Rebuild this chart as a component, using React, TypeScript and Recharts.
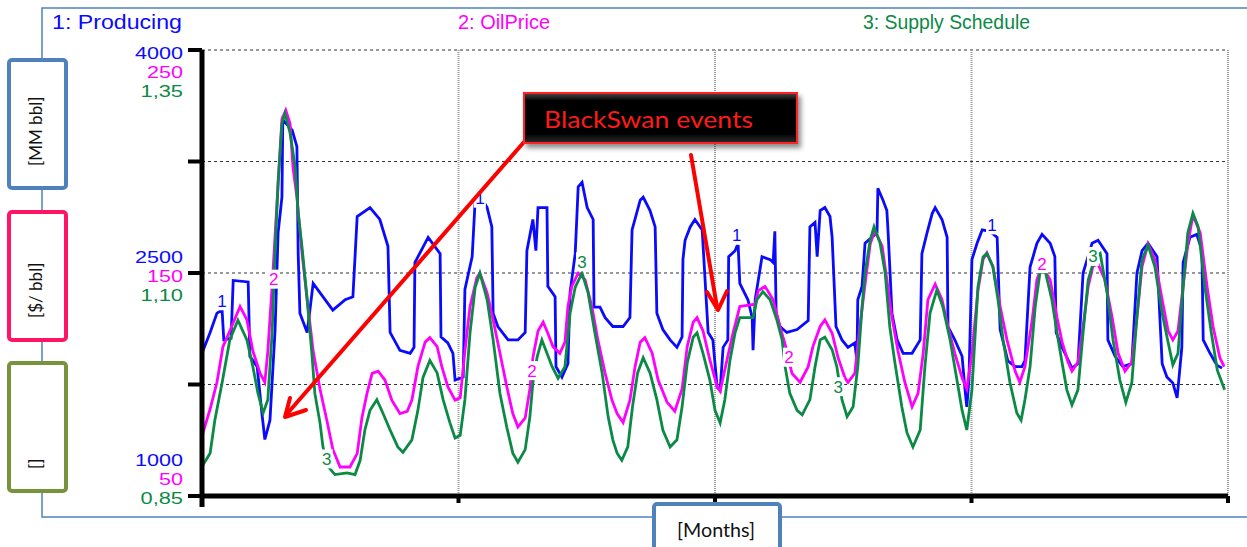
import React from "react";
import {
  LineChart,
  Line,
  XAxis,
  YAxis,
  CartesianGrid,
  ReferenceDot,
} from "recharts";

// 1: Producing [MM bbl]
const producingMonths = [
  0, 1.9, 3.5, 4.7, 5.1, 6.8, 7.3, 10.8, 11.2, 12.9, 14.0, 14.7, 15.9, 17.1, 17.8, 18.7, 18.9, 21.1, 22.2, 22.5,
  22.9, 24.6, 26.0, 30.6, 33.5, 35.3, 36.3, 39.3, 41.6, 43.5, 44.0, 46.3, 48.7, 49.6, 49.8, 52.9, 55.7, 55.9, 57.5, 58.7,
  59.2, 61.1, 61.5, 63.2, 63.9, 64.6, 66.7, 67.8, 68.1, 69.2, 71.6, 73.9, 75.6, 76.0, 77.4, 78.1, 78.6, 80.7, 80.9, 82.6,
  82.8, 84.2, 85.6, 86.1, 87.3, 88.0, 88.9, 90.1, 91.5, 91.7, 93.1, 94.3, 96.1, 98.5, 100.1, 100.6, 102.5, 103.2, 104.8, 106.0,
  106.4, 107.8, 109.5, 111.1, 112.3, 112.5, 113.0, 114.2, 115.3, 117.0, 118.4, 119.5, 120.5, 121.2, 121.9, 123.0, 123.2, 124.7, 125.4, 125.8,
  127.7, 128.7, 128.9, 129.4, 131.0, 132.9, 133.6, 134.0, 134.3, 135.2, 136.8, 139.2, 141.8, 142.2, 143.4, 143.9, 144.6, 145.7, 146.9, 147.4,
  148.3, 149.7, 151.1, 152.7, 153.2, 153.4, 154.4, 155.1, 157.9, 158.1, 159.3, 160.2, 160.5, 161.4, 162.6, 164.0, 166.1, 168.0, 168.4, 169.6,
  170.8, 171.5, 173.1, 174.3, 174.5, 176.1, 177.8, 178.5, 178.9, 179.4, 180.1, 181.3, 182.5, 184.3, 186.0, 186.7, 188.5, 190.2, 191.8, 192.5,
  193.7, 195.3, 196.5, 198.4, 199.5, 199.8, 201.2, 203.5, 204.9, 206.1, 208.2, 209.6, 211.7, 211.9, 213.6, 215.4, 217.5, 218.7, 219.9, 221.3,
  223.4, 224.1, 224.6, 225.7, 227.1, 228.1, 229.2, 229.5, 231.1, 232.7, 233.9, 234.2, 235.8, 237.4, 238.6,
];
const producingValues = [
  1960, 2100, 2230, 2250, 2050, 2060, 2450, 2440, 1940, 1870, 1560, 1380, 1510, 2120, 2770, 3010, 3530, 3460, 3350, 2630,
  2230, 2100, 2430, 2250, 2320, 2340, 2880, 2940, 2860, 2680, 2100, 1980, 1960, 2000, 2570, 2740, 2630, 2070, 2030, 1960,
  1780, 1800, 2390, 2610, 2990, 3040, 2940, 2810, 2230, 2140, 2050, 2050, 2100, 2650, 2860, 2650, 2940, 2940, 2410, 2340,
  1870, 1800, 1890, 2370, 2630, 3080, 3110, 2940, 2860, 2270, 2270, 2200, 2140, 2140, 2200, 2790, 2990, 3010, 2920, 2810,
  2230, 2120, 2050, 2000, 2070, 2590, 2720, 2810, 2860, 2790, 2100, 2050, 1730, 1710, 2000, 2050, 2610, 2650, 2700, 2430,
  2320, 2200, 1980, 2320, 2610, 2590, 2570, 2780, 2230, 2140, 2100, 2120, 2180, 2810, 2840, 2610, 2920, 2940, 2880, 2740,
  2140, 2050, 2000, 2030, 1910, 2320, 2410, 2700, 2770, 3070, 2990, 2920, 2770, 2230, 2050, 1960, 1960, 2050, 2630, 2770,
  2900, 2940, 2860, 2740, 2140, 2050, 1940, 1710, 1600, 1780, 2590, 2700, 2790, 2780, 2740, 2120, 1910, 1870, 1870, 1910,
  2540, 2700, 2760, 2700, 2610, 2100, 2000, 1860, 1890, 2500, 2700, 2720, 2630, 2050, 1940, 1870, 1890, 2500, 2650, 2700,
  2610, 2180, 1890, 1800, 1760, 1660, 2000, 2570, 2740, 2760, 2650, 2050, 1960, 1880, 1860,
];

// 2: OilPrice [$/ bbl]
const priceMonths = [
  0, 1.9, 3.5, 4.9, 6.5, 8.9, 10.5, 11.9, 13.6, 14.7, 15.4, 16.4, 17.8, 18.7, 19.6, 20.6, 21.3, 22.2, 23.4, 24.6,
  26.0, 27.6, 29.2, 30.6, 32.3, 34.6, 36.3, 37.4, 38.6, 39.8, 41.2, 42.8, 44.4, 46.3, 48.0, 49.1, 50.5, 52.2, 53.3, 55.0,
  56.1, 57.5, 59.2, 60.4, 61.5, 62.7, 64.3, 65.0, 66.7, 68.1, 69.7, 71.3, 72.7, 73.9, 75.6, 76.7, 77.4, 78.6, 79.8, 80.9,
  82.1, 83.7, 84.9, 85.6, 86.5, 88.0, 89.6, 91.2, 92.6, 94.3, 95.9, 97.1, 98.5, 100.1, 101.3, 102.5, 103.6, 105.3, 106.7, 108.8,
  110.6, 112.3, 113.5, 114.9, 115.8, 117.2, 118.8, 120.5, 121.2, 122.8, 124.2, 125.8, 129.4, 130.1, 131.7, 133.6, 135.2, 136.4, 138.0, 139.9,
  141.8, 142.9, 144.6, 145.7, 147.4, 148.8, 150.4, 151.1, 152.7, 153.9, 155.1, 156.3, 157.4, 159.1, 160.2, 161.4, 162.8, 164.4, 166.1, 167.5,
  168.7, 169.8, 171.5, 173.1, 174.5, 176.1, 177.8, 178.9, 180.1, 181.5, 182.7, 183.6, 185.0, 186.7, 188.3, 190.2, 191.3, 192.5, 194.2, 195.3,
  196.5, 198.4, 200.0, 201.2, 202.6, 203.5, 204.9, 206.1, 207.3, 208.4, 209.6, 211.2, 212.9, 214.3, 215.9, 217.5, 218.7, 219.9, 221.3, 222.9,
  224.6, 226.0, 227.1, 228.3, 229.5, 230.6, 231.8, 233.5, 235.1, 236.5, 238.1, 239.1,
];
const priceValues = [
  77, 89, 101, 117, 124, 135, 129, 115, 105, 101, 115, 144, 190, 219, 223, 217, 197, 184, 159, 138,
  115, 98, 84, 71, 63, 63, 69, 85, 96, 105, 106, 102, 93, 87, 88, 93, 108, 119, 121, 117,
  108, 99, 93, 94, 115, 135, 148, 150, 141, 129, 114, 99, 87, 81, 85, 98, 112, 124, 128, 123,
  117, 114, 119, 135, 144, 150, 147, 135, 120, 105, 93, 87, 83, 93, 108, 119, 121, 114, 102, 92,
  88, 98, 117, 128, 130, 124, 111, 99, 97, 111, 123, 135, 136, 142, 144, 138, 126, 118, 105, 101,
  108, 117, 126, 129, 123, 112, 103, 101, 105, 126, 145, 163, 169, 162, 147, 130, 115, 101, 90, 96,
  114, 138, 145, 138, 126, 114, 103, 98, 114, 142, 156, 159, 153, 135, 120, 106, 101, 108, 129, 147,
  153, 147, 130, 119, 110, 106, 110, 126, 144, 153, 154, 147, 130, 114, 106, 110, 130, 153, 163, 156,
  138, 124, 120, 124, 144, 163, 176, 168, 144, 126, 112, 108,
];

// 3: Supply Schedule []
const supplyMonths = [
  0, 1.9, 3.0, 4.7, 6.5, 8.4, 10.5, 11.9, 13.1, 14.3, 15.4, 16.4, 17.1, 17.8, 18.7, 19.4, 20.6, 21.8, 22.5, 23.4,
  24.6, 25.7, 26.4, 27.6, 28.3, 29.5, 31.1, 33.9, 35.8, 37.0, 38.1, 39.3, 40.9, 42.3, 44.0, 45.8, 47.0, 49.1, 50.5, 51.7,
  53.3, 55.0, 56.4, 58.0, 59.2, 60.4, 61.5, 62.7, 63.9, 65.0, 66.7, 68.1, 69.7, 71.3, 72.7, 73.9, 75.6, 76.7, 77.4, 78.4,
  79.5, 80.7, 81.9, 83.3, 84.9, 86.1, 87.3, 88.9, 90.3, 91.9, 93.6, 95.0, 96.1, 97.1, 98.2, 99.6, 100.7, 101.9, 103.2, 104.8,
  106.4, 107.8, 109.5, 111.1, 112.3, 113.5, 114.9, 115.8, 117.2, 118.8, 120.0, 121.2, 122.3, 123.5, 124.7, 125.8, 128.9, 129.8, 131.2, 132.9,
  134.5, 135.7, 136.4, 137.5, 139.2, 140.4, 142.2, 143.4, 144.6, 145.7, 147.4, 148.5, 149.7, 150.9, 152.3, 153.4, 154.4, 155.1, 156.3, 157.2,
  158.6, 159.8, 160.9, 162.1, 163.7, 164.9, 166.3, 168.0, 169.1, 170.3, 171.9, 173.3, 175.0, 176.6, 177.8, 178.9, 180.1, 181.5, 182.7, 183.6,
  185.0, 186.2, 187.4, 189.0, 190.6, 191.6, 192.5, 193.7, 194.9, 196.0, 197.2, 198.8, 200.0, 201.2, 202.3, 203.5, 204.9, 206.1, 207.3, 208.9,
  210.1, 211.7, 213.1, 214.7, 216.1, 217.5, 218.7, 219.9, 221.3, 222.9, 224.6, 226.0, 227.1, 228.3, 229.5, 230.6, 231.8, 233.0, 234.6, 236.1,
  237.5, 239.2,
];
const supplyValues = [
  0.883, 0.898, 0.935, 0.977, 1.025, 1.047, 1.025, 0.995, 0.965, 0.943, 0.958, 1.033, 1.126, 1.201, 1.268, 1.279, 1.257, 1.219, 1.167, 1.129,
  1.07, 1.01, 0.965, 0.932, 0.905, 0.883, 0.874, 0.876, 0.874, 0.89, 0.924, 0.946, 0.958, 0.943, 0.924, 0.905, 0.899, 0.913, 0.946, 0.983,
  1.002, 0.988, 0.958, 0.932, 0.915, 0.918, 0.958, 1.033, 1.084, 1.1, 1.07, 1.025, 0.965, 0.927, 0.898, 0.888, 0.902, 0.939, 0.977, 1.006,
  1.025, 1.01, 0.995, 0.982, 0.995, 1.055, 1.084, 1.1, 1.078, 1.033, 0.988, 0.939, 0.913, 0.898, 0.89, 0.905, 0.95, 0.988, 1.005, 0.988,
  0.958, 0.924, 0.905, 0.913, 0.95, 0.999, 1.028, 1.033, 1.01, 0.98, 0.946, 0.932, 0.958, 1.002, 1.033, 1.05, 1.05, 1.07, 1.079, 1.07,
  1.047, 1.025, 0.995, 0.965, 0.946, 0.941, 0.958, 0.995, 1.025, 1.028, 1.014, 0.995, 0.958, 0.939, 0.95, 0.995, 1.062, 1.1, 1.137, 1.152,
  1.134, 1.1, 1.039, 0.999, 0.95, 0.921, 0.905, 0.924, 0.995, 1.055, 1.081, 1.062, 1.025, 0.98, 0.946, 0.924, 0.969, 1.084, 1.118, 1.122,
  1.107, 1.07, 1.025, 0.977, 0.943, 0.935, 0.958, 0.995, 1.062, 1.1, 1.103, 1.07, 1.033, 0.999, 0.969, 0.952, 0.969, 1.033, 1.092, 1.118,
  1.122, 1.078, 1.025, 0.98, 0.955, 0.977, 1.051, 1.115, 1.131, 1.107, 1.055, 1.022, 0.997, 1.01, 1.084, 1.145, 1.167, 1.152, 1.084, 1.033,
  0.991, 0.969,
];

// left axis: three stacked scales
const producingTicks = [1000, 2500, 4000];
const priceTicks = ["50", "150", "250"];
const supplyTicks = ["0,85", "1,10", "1,35"];
const gridValues = [1000, 1750, 2500, 3250, 4000];
const monthTicks = [0, 60, 120, 180, 240];

// the little series numbers sitting on the curves
const producingTagMonths = [4.7, 65.0, 125.1, 184.8];
const producingTagValues = [2310, 3000, 2750, 2820];
const priceTagMonths = [16.8, 77.2, 137.3, 196.5];
const priceTagValues = [147, 106, 112, 154];
const supplyTagMonths = [29.2, 88.9, 148.8, 208.4];
const supplyTagValues = [0.891, 1.112, 0.972, 1.118];

const BLUE = "#0a0aff";
const MAGENTA = "#ff00ff";
const GREEN = "#0b8a45";
const FRAME = "#4f81bd";
const ARIAL = "'Liberation Sans', Arial, sans-serif";
const CALIBRI = "Lato, 'Open Sans', sans-serif";

const producingData = producingMonths.map((m, i) => ({ m, v: producingValues[i] }));
const priceData = priceMonths.map((m, i) => ({ m, v: priceValues[i] }));
const supplyData = supplyMonths.map((m, i) => ({ m, v: supplyValues[i] }));

const labelWidth = (s: string) =>
  s.split("").reduce((w, c) => w + (c === "," ? 6.5 : 12), 0);

function StackedTick(props: any) {
  const { x, y, payload } = props;
  const i = producingTicks.indexOf(payload.value);
  if (i < 0) return null;
  const offsets = i === 2 ? [3, 22, 41] : i === 1 ? [-16, 3, 22] : [-36, -17, 2];
  const texts = [String(producingTicks[i]), priceTicks[i], supplyTicks[i]];
  const colors = [BLUE, MAGENTA, GREEN];
  return (
    <g>
      {texts.map((t, k) => (
        <text
          key={k}
          x={x}
          y={y + offsets[k]}
          textAnchor="end"
          dominantBaseline="central"
          fontSize={17}
          fontFamily={ARIAL}
          fill={colors[k]}
          textLength={labelWidth(t)}
          lengthAdjust="spacingAndGlyphs"
        >
          {t}
        </text>
      ))}
    </g>
  );
}

const EmptyTick = () => <g />;

const makeTag = (label: string, color: string) => (p: any) => (
  <g>
    <rect x={p.cx - 6} y={p.cy - 10} width={12} height={19} fill="#fff" />
    <text
      x={p.cx}
      y={p.cy}
      textAnchor="middle"
      dominantBaseline="central"
      fontSize={17}
      fontFamily={ARIAL}
      fill={color}
    >
      {label}
    </text>
  </g>
);

function SideBox({ top, color, label }: { top: number; color: string; label: string }) {
  const bottom = top + 132;
  return (
    <g>
      <rect x={9} y={top + 2} width={57} height={128} rx={3} fill="#fff" stroke={color} strokeWidth={4} />
      <text
        x={42}
        y={bottom - 24}
        transform={`rotate(-90 42 ${bottom - 24})`}
        fontSize={17}
        fontFamily={CALIBRI}
        fill="#111"
      >
        {label}
      </text>
    </g>
  );
}

export default function App() {
  return (
    <div style={{ position: "absolute", left: 0, top: 0, width: 1247, height: 547, background: "#fff" }}>
      <LineChart width={1247} height={547} margin={{ top: 50, right: 19, bottom: 44, left: 142 }}>
        <CartesianGrid yAxisId="p" vertical={false} stroke="#333" strokeDasharray="3 3" />
        <CartesianGrid yAxisId="p" horizontal={false} stroke="#999" strokeWidth={2} strokeDasharray="1 1" />
        <XAxis
          type="number"
          dataKey="m"
          domain={[0, 240]}
          ticks={monthTicks}
          interval={0}
          height={7}
          tick={EmptyTick}
          tickSize={7}
          axisLine={{ stroke: "#000", strokeWidth: 5 }}
          tickLine={{ stroke: "#000", strokeWidth: 4 }}
        />
        <YAxis
          yAxisId="p"
          domain={[1000, 4000]}
          ticks={gridValues}
          interval={0}
          width={60}
          tickSize={14}
          tickMargin={5}
          tick={<StackedTick />}
          axisLine={{ stroke: "#000", strokeWidth: 5 }}
          tickLine={{ stroke: "#000", strokeWidth: 4 }}
        />
        <YAxis yAxisId="o" hide width={0} domain={[50, 250]} />
        <YAxis yAxisId="s" hide width={0} domain={[0.85, 1.35]} />
        <Line
          yAxisId="p"
          data={producingData}
          dataKey="v"
          type="linear"
          stroke={BLUE}
          strokeWidth={2.8}
          dot={false}
          isAnimationActive={false}
        />
        <Line
          yAxisId="o"
          data={priceData}
          dataKey="v"
          type="linear"
          stroke={MAGENTA}
          strokeWidth={2.8}
          dot={false}
          isAnimationActive={false}
        />
        <Line
          yAxisId="s"
          data={supplyData}
          dataKey="v"
          type="linear"
          stroke={GREEN}
          strokeWidth={2.8}
          dot={false}
          isAnimationActive={false}
        />
        {producingTagMonths.map((m, i) => (
          <ReferenceDot key={`p${i}`} yAxisId="p" x={m} y={producingTagValues[i]} shape={makeTag("1", BLUE)} />
        ))}
        {priceTagMonths.map((m, i) => (
          <ReferenceDot key={`o${i}`} yAxisId="o" x={m} y={priceTagValues[i]} shape={makeTag("2", MAGENTA)} />
        ))}
        {supplyTagMonths.map((m, i) => (
          <ReferenceDot key={`s${i}`} yAxisId="s" x={m} y={supplyTagValues[i]} shape={makeTag("3", GREEN)} />
        ))}
      </LineChart>

      <svg
        width={1247}
        height={547}
        style={{ position: "absolute", left: 0, top: 0, pointerEvents: "none" }}
      >
        <defs>
          <linearGradient id="swanFill" x1="0" y1="0" x2="0" y2="1">
            <stop offset="0" stopColor="#4a4a4a" />
            <stop offset="0.15" stopColor="#050505" />
            <stop offset="0.82" stopColor="#000" />
            <stop offset="1" stopColor="#303030" />
          </linearGradient>
          <filter id="swanShadow" x="-5%" y="-10%" width="115%" height="140%">
            <feDropShadow dx="3" dy="4" stdDeviation="2.5" floodColor="#000" floodOpacity="0.45" />
          </filter>
        </defs>

        {/* outer frame */}
        <polyline points="1247,8 42,8 42,517 1247,517" fill="none" stroke={FRAME} strokeWidth={1.5} />

        {/* series headers */}
        <text x={52} y={29} fontSize={20} fontFamily={ARIAL} fill={BLUE} textLength={130} lengthAdjust="spacingAndGlyphs">
          1: Producing
        </text>
        <text x={458} y={29} fontSize={20} fontFamily={ARIAL} fill={MAGENTA} textLength={92} lengthAdjust="spacingAndGlyphs">
          2: OilPrice
        </text>
        <text x={863} y={29} fontSize={20} fontFamily={ARIAL} fill={GREEN} textLength={167} lengthAdjust="spacingAndGlyphs">
          3: Supply Schedule
        </text>

        {/* unit boxes */}
        <SideBox top={58} color={FRAME} label="[MM bbl]" />
        <SideBox top={210} color="#ff1466" label="[$/ bbl]" />
        <SideBox top={361} color="#77933c" label="[]" />

        {/* y axis stub below the x axis */}
        <rect x={199.5} y={496} width={5} height={11} fill="#000" />

        {/* x axis unit box */}
        <rect x={654} y={504} width={126} height={52} rx={3} fill="#fff" stroke={FRAME} strokeWidth={4} />
        <text x={677} y={537} fontSize={19} fontFamily={CALIBRI} fill="#111" textLength={78} lengthAdjust="spacingAndGlyphs">
          [Months]
        </text>

        {/* annotation */}
        <g stroke="#ff0000" strokeWidth={4} strokeLinecap="round" strokeLinejoin="round" fill="none">
          <line x1={524} y1={142} x2={286} y2={415} />
          <polyline points="290,398 285,417 306,410" />
          <line x1={691} y1={155} x2={717} y2={307} />
          <polyline points="707,292 718,310 727,291" />
        </g>
        <rect
          x={524}
          y={93}
          width={273}
          height={50}
          fill="url(#swanFill)"
          stroke="#ff2020"
          strokeWidth={2}
          filter="url(#swanShadow)"
        />
        <text x={544} y={128} fontSize={24} fontFamily={CALIBRI} fill="#ff1a1a" textLength={209} lengthAdjust="spacingAndGlyphs">
          BlackSwan events
        </text>
      </svg>
    </div>
  );
}
